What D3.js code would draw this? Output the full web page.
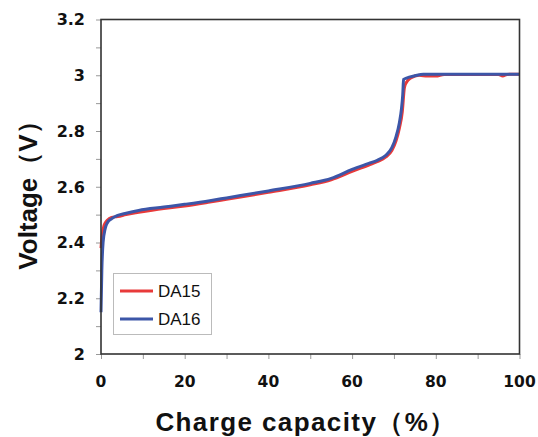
<!DOCTYPE html>
<html>
<head>
<meta charset="utf-8">
<script src="https://cdn.jsdelivr.net/npm/d3@7"></script>
<style>
  body { margin: 0; background: #fff; }
  svg { display: block; }
</style>
</head>
<body>
<svg id="chart"></svg>
<script>
// capacity (%) and voltage (V)
const da15X = [0, 0.3, 0.7, 1, 1.5, 2.5, 4, 6, 9, 15, 20, 26, 30, 40, 50, 55, 60, 64, 66, 68, 69.5, 70.5, 71.3, 72, 72.5, 73, 74, 76, 78, 80, 82, 90, 95, 96, 97, 100];
const da15Y = [2.38, 2.43, 2.46, 2.47, 2.48, 2.49, 2.493, 2.5, 2.508, 2.522, 2.531, 2.545, 2.555, 2.58, 2.607, 2.625, 2.655, 2.678, 2.69, 2.706, 2.73, 2.765, 2.81, 2.87, 2.955, 2.975, 2.99, 3.0, 2.997, 2.997, 3.003, 3.003, 3.003, 2.997, 3.003, 3.004];
const da16X = [0, 0.2, 0.5, 1, 1.5, 2.5, 4, 6, 9, 15, 20, 26, 30, 40, 50, 55, 60, 64, 66, 68, 69.5, 70.5, 71.3, 71.8, 72.1, 72.3, 73, 75, 77, 100];
const da16Y = [2.15, 2.3, 2.4, 2.45, 2.47, 2.485, 2.497, 2.505, 2.515, 2.527, 2.537, 2.55, 2.56, 2.585, 2.612, 2.63, 2.662, 2.684, 2.695, 2.712, 2.74, 2.78, 2.83, 2.88, 2.93, 2.985, 2.99, 2.998, 3.004, 3.004];

const seriesNames = ["DA15", "DA16"];
const seriesColors = ["#e83a3a", "#3c56a8"];

const xTicks = [0, 20, 40, 60, 80, 100];
const xMinor = [0, 10, 20, 30, 40, 50, 60, 70, 80, 90, 100];
const yTicks = [2, 2.2, 2.4, 2.6, 2.8, 3, 3.2];
const yTickLabels = ["2", "2.2", "2.4", "2.6", "2.8", "3", "3.2"];
const yMinor = [2, 2.1, 2.2, 2.3, 2.4, 2.5, 2.6, 2.7, 2.8, 2.9, 3, 3.1, 3.2];

const width = 538, height = 437;
const margin = {left: 101, right: 18.5, top: 19.5, bottom: 83};

const svg = d3.select("#chart")
    .attr("width", width)
    .attr("height", height);

const x = d3.scaleLinear().domain([0, 100]).range([margin.left, width - margin.right]);
const y = d3.scaleLinear().domain([2, 3.2]).range([height - margin.bottom, margin.top]);

// minor/major tick marks
svg.append("g")
    .attr("transform", `translate(0,${y(2)})`)
    .call(d3.axisBottom(x).tickValues(xMinor).tickSize(5).tickFormat(""))
    .call(g => g.select(".domain").remove())
    .call(g => g.selectAll("line").attr("stroke", "#999"));

svg.append("g")
    .attr("transform", `translate(${x(0)},0)`)
    .call(d3.axisLeft(y).tickValues(yMinor).tickSize(5).tickFormat(""))
    .call(g => g.select(".domain").remove())
    .call(g => g.selectAll("line").attr("stroke", "#999"));

// tick labels
svg.append("g")
    .selectAll("text")
    .data(xTicks)
    .join("text")
    .attr("x", d => x(d))
    .attr("y", 387)
    .attr("text-anchor", "middle")
    .attr("font-family", "DejaVu Sans, sans-serif")
    .attr("font-weight", "bold")
    .attr("font-size", 15.5)
    .attr("fill", "#111")
    .text(d => d);

svg.append("g")
    .selectAll("text")
    .data(yTicks)
    .join("text")
    .attr("x", 85)
    .attr("y", d => y(d))
    .attr("dy", "0.36em")
    .attr("text-anchor", "end")
    .attr("font-family", "DejaVu Sans, sans-serif")
    .attr("font-weight", "bold")
    .attr("font-size", 16)
    .attr("fill", "#111")
    .text((d, i) => yTickLabels[i]);

// curves
const line = d3.line().x(d => x(d[0])).y(d => y(d[1])).curve(d3.curveMonotoneX);
const series = [d3.zip(da15X, da15Y), d3.zip(da16X, da16Y)];

series.forEach((pts, i) => {
    svg.append("path")
        .datum(pts)
        .attr("d", line)
        .attr("fill", "none")
        .attr("stroke", seriesColors[i])
        .attr("stroke-width", 3)
        .attr("stroke-linejoin", "round");
});

// frame
svg.append("rect")
    .attr("x", x(0))
    .attr("y", y(3.2))
    .attr("width", x(100) - x(0))
    .attr("height", y(2) - y(3.2))
    .attr("fill", "none")
    .attr("stroke", "#333")
    .attr("stroke-width", 1.6);

// legend
const legend = svg.append("g");
legend.append("rect")
    .attr("x", 113.5)
    .attr("y", 273.5)
    .attr("width", 98)
    .attr("height", 61)
    .attr("fill", "#fff")
    .attr("stroke", "#bbb")
    .attr("stroke-width", 1);

seriesNames.forEach((name, i) => {
    const ly = 291 + i * 28;
    legend.append("line")
        .attr("x1", 120).attr("x2", 153)
        .attr("y1", ly).attr("y2", ly)
        .attr("stroke", seriesColors[i])
        .attr("stroke-width", 3);
    legend.append("text")
        .attr("x", 158)
        .attr("y", ly)
        .attr("dy", "0.36em")
        .attr("font-family", "Liberation Sans, Arial, sans-serif")
        .attr("font-size", 17)
        .attr("fill", "#111")
        .text(name);
});

// axis titles
svg.append("text")
    .attr("x", 306)
    .attr("y", 431)
    .attr("text-anchor", "middle")
    .attr("font-family", "Liberation Sans, Arial, sans-serif")
    .attr("font-weight", "bold")
    .attr("font-size", 26)
    .attr("letter-spacing", 1.4)
    .attr("fill", "#111")
    .text("Charge capacity（%）");

svg.append("text")
    .attr("transform", "translate(28,189) rotate(-90)")
    .attr("dy", "0.36em")
    .attr("text-anchor", "middle")
    .attr("font-family", "Liberation Sans, Arial, sans-serif")
    .attr("font-weight", "bold")
    .attr("font-size", 26)
    .attr("fill", "#111")
    .text("Voltage（V）");
</script>
</body>
</html>
